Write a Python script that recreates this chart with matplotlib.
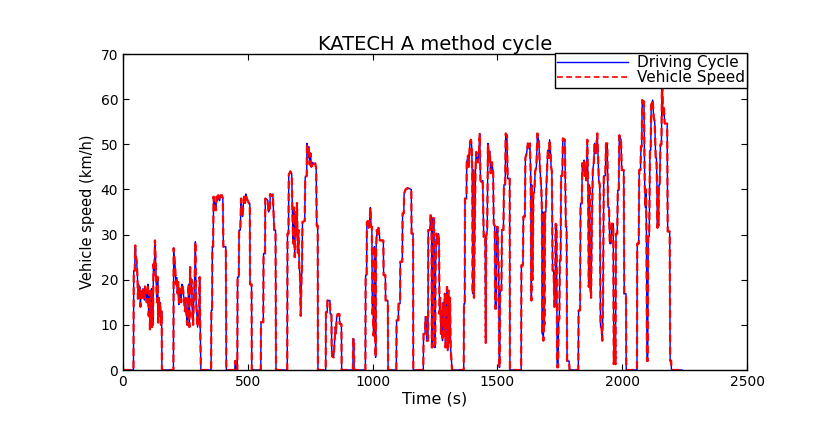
import matplotlib
matplotlib.use('Agg')
import matplotlib.pyplot as plt

plt.rcParams.update({
    'font.family': ['DejaVu Sans'],
    'font.size': 10,
})

# ── KATECH A method cycle (time in s, speed in km/h) ──
time_s = [
    0, 42,
    43, 47, 49, 52, 55, 58, 60, 62, 64, 67, 70, 72, 75, 78, 80, 83, 86, 88, 92, 95, 98, 100,
    103, 106, 108, 111, 114, 116, 118, 120, 122, 125, 128, 131, 134, 137, 139, 141, 143, 146,
    149, 152, 155, 156, 202,
    203, 206, 209, 212, 215, 218, 221, 224, 227, 230, 233, 236, 239, 242, 245, 248, 251, 254,
    257, 260, 263, 266, 269, 272, 275, 278, 281, 284, 287, 290, 293, 296, 299, 302, 305, 307,
    309, 312, 353,
    354, 357, 358, 361, 363, 366, 369, 372, 375, 378, 381, 384, 387, 391, 396, 400, 402, 412,
    414, 448, 449, 452, 453, 458,
    459, 464, 465, 470, 473, 476, 479, 482, 485, 489, 492, 496, 505, 508, 509, 515, 516, 552,
    553, 562, 563, 569, 570, 580, 583, 588, 590, 597, 600, 606, 611, 613, 658,
    659, 663, 664, 670, 676, 679, 682, 685, 688, 691, 694, 697, 700, 703, 706, 709, 712, 715,
    717, 719, 728, 730, 736, 737, 741, 744, 748, 751, 755, 760, 765, 770, 774, 776, 780, 781,
    812,
    813, 818, 819, 829, 830, 835, 836, 838, 844, 847, 851, 853, 856, 860, 867, 868, 875, 876,
    921, 922, 925, 926, 971,
    972, 976, 977, 981, 984, 988, 991, 994, 997, 999, 1002, 1004, 1007, 1010, 1012, 1014, 1017,
    1020, 1023, 1027, 1029, 1043, 1044, 1051, 1052, 1061, 1062, 1095,
    1096, 1103, 1104, 1110, 1111, 1119, 1120, 1125, 1126, 1132, 1140, 1155, 1156, 1162, 1163,
    1203,
    1204, 1210, 1211, 1216, 1217, 1222, 1223, 1230, 1232, 1236, 1237, 1240, 1241, 1246, 1248,
    1251, 1252, 1256, 1260, 1264, 1266, 1268, 1271, 1274, 1277, 1280, 1283, 1286, 1289, 1292,
    1295, 1298, 1301, 1304, 1307, 1310, 1313, 1316, 1318, 1365,
    1366, 1369, 1370, 1376, 1377, 1382, 1385, 1390, 1394, 1397, 1399, 1401, 1404, 1406, 1409,
    1412, 1415, 1419, 1422, 1426, 1429, 1432, 1438, 1441, 1445, 1448, 1451, 1453, 1455, 1459,
    1462, 1466, 1469, 1473, 1478, 1483, 1485, 1489, 1491, 1495, 1497, 1501, 1503, 1505, 1507,
    1509, 1511, 1516, 1518, 1524, 1526, 1531, 1533, 1538, 1541, 1549, 1550, 1595,
    1596, 1602, 1604, 1610, 1612, 1617, 1622, 1627, 1630, 1633, 1636, 1638, 1641, 1644, 1648,
    1651, 1656, 1660, 1666, 1670, 1673, 1676, 1678, 1680, 1682, 1684, 1686, 1688, 1691, 1694,
    1697, 1702, 1706, 1709, 1713, 1715, 1718, 1721, 1725, 1728, 1731, 1733, 1737, 1739, 1743,
    1745, 1748, 1750, 1753, 1755, 1760, 1762, 1770, 1774, 1777, 1779, 1787, 1789, 1824,
    1825, 1831, 1833, 1838, 1840, 1844, 1847, 1850, 1853, 1856, 1860, 1863, 1866, 1869, 1872,
    1875, 1878, 1882, 1886, 1889, 1894, 1900, 1904, 1906, 1910, 1913, 1917, 1920, 1923, 1926,
    1932, 1935, 1940, 1943, 1947, 1950, 1955, 1958, 1964, 1966, 1970, 1973, 1975, 1980, 1982,
    1986, 1988, 1995, 1998, 2006, 2008, 2015, 2016, 2059,
    2060, 2066, 2068, 2073, 2075, 2078, 2080, 2084, 2087, 2090, 2093, 2095, 2097, 2099, 2102,
    2104, 2108, 2111, 2114, 2116, 2122, 2126, 2130, 2134, 2137, 2139, 2141, 2143, 2145, 2147,
    2150, 2153, 2157, 2159, 2161, 2163, 2167, 2170, 2180, 2182, 2190, 2192, 2196, 2197, 2240,
]
cycle_kmh = [
    0, 0,
    22, 22, 27.6, 25, 24, 20.6, 15.8, 19, 16, 18.5, 14, 17, 17.5, 16, 18, 17, 15.5, 18.5, 17, 15, 16.5, 19,
    12, 17.5, 9, 16, 18, 9.5, 13, 10, 23.5, 21, 28.7, 24, 18, 15, 20.6, 10.5, 16, 12,
    15, 10, 13, 0, 0,
    27, 25, 22.8, 19, 20.5, 17, 19.5, 14.5, 18, 17.6, 15, 19, 18.7, 17, 15.4, 13, 16, 12.4,
    10, 13.5, 19, 9.5, 22.8, 17, 20, 12, 10, 16, 20, 28.4, 15, 12.4, 9.5, 13, 11, 20.6,
    11, 0, 0,
    13.2, 13.2, 27.3, 27.3, 38.4, 35.5, 37, 35.4, 38.4, 37.5, 38.7, 38, 37.5, 38.7, 38.7, 38, 27.3, 27.3,
    0, 0, 2, 2, 0, 0,
    20.6, 20.6, 31, 31, 38, 35, 34, 36.5, 38.4, 37, 39, 38, 36.9, 36.9, 19, 19, 0, 0,
    10.6, 10.6, 25.8, 25.8, 38, 37.6, 35, 35.5, 39, 38.5, 39, 31, 31, 0, 0,
    30.2, 30.2, 43.2, 44, 43.5, 34, 28, 36, 25, 35, 30, 37, 26, 31, 22.8, 21, 12, 20,
    22, 32.8, 33, 42.8, 43, 50.2, 47, 49.5, 45.5, 48, 45, 46, 45.5, 45.8, 44.5, 32, 32, 0,
    0,
    12.8, 12.8, 15.4, 15.4, 12.4, 12.4, 5, 3, 2.8, 5.8, 9.5, 8, 11.7, 12.4, 12.4, 10.2, 10.2, 0,
    0, 6.9, 6.9, 0, 0,
    21, 21, 32.8, 33, 31.5, 33, 36, 31.7, 31.7, 12.4, 14, 7.6, 27.3, 25, 2.8, 27, 31,
    30, 31.5, 30, 28.7, 28.7, 21, 21, 15.4, 15.4, 0, 0,
    11, 11, 14.7, 14.7, 24, 24, 34.7, 34.7, 39, 40, 40.3, 40, 30.2, 30.2, 0,
    0,
    8, 8, 11.7, 11.7, 6.5, 6.5, 31, 31, 34.3, 34, 5, 5, 33.6, 33.6, 5,
    5, 22, 30.2, 28, 30.2, 28, 12.4, 16, 8, 13, 6.5, 15, 9, 16.9, 5,
    14, 18.4, 4.3, 17.6, 6, 16, 4.3, 2, 0, 0,
    14.7, 14.7, 38, 38, 46, 47.5, 45, 50.6, 51, 49.5, 43.6, 16.9, 44.3, 16, 30,
    44, 48.3, 47, 46, 48, 52.4, 42, 41.5, 42, 29.5, 30, 29.5, 6, 29.5, 31,
    50.2, 47, 48.5, 43.6, 46, 43.6, 32.4, 32, 13.6, 13.6, 31.7, 31.7, 25, 23, 0.6,
    0.6, 17.6, 17.6, 31, 31, 41, 41, 52.4, 52, 42.4, 42.4, 0, 0,
    23.2, 23.2, 34, 34, 47, 48, 50.2, 49, 50.2, 44, 15.4, 41, 20, 39, 39.5,
    44, 45, 52.4, 50.5, 45, 42.5, 40, 35.4, 8, 35, 6.5, 34, 10, 35, 35,
    42, 48.7, 47, 51, 48, 45, 44, 22, 22, 14, 14, 32.4, 32, 0.6, 0.6,
    11.3, 11.3, 24.3, 24.3, 43, 43, 51.3, 51, 31.7, 31.7, 2, 2, 0, 0,
    13.2, 13.2, 36.9, 36.9, 45.8, 44, 46.5, 43, 45, 42, 51, 41, 18.4, 41, 18.4,
    16, 30, 44.3, 46, 50.2, 48, 52.4, 46, 42, 41, 9.5, 9.5, 6.5, 15, 43,
    43, 50.2, 50.2, 36.1, 36, 28, 28, 32.4, 32.4, 1.3, 10, 1.3, 30.2, 30.2, 39.8,
    39.8, 52, 51, 44.3, 44.3, 16.9, 16.9, 0, 0,
    28, 28, 44.3, 44.3, 49.5, 49.5, 59.8, 58.5, 59.5, 41, 36, 40, 30, 2, 2,
    29.6, 29.6, 48.7, 48.7, 58.7, 59.8, 56, 55, 47, 47, 41, 31.5, 40, 32, 41,
    41, 50, 50, 63, 63, 56.5, 58, 54.6, 54.6, 30.7, 30.7, 2, 2, 0, 0,
]
# measured vehicle speed follows the reference cycle
vehicle_kmh = cycle_kmh

x_ticks = [0, 500, 1000, 1500, 2000, 2500]
y_ticks = [0, 10, 20, 30, 40, 50, 60, 70]

fig = plt.figure(figsize=(8.31, 4.25), dpi=100)
ax = fig.add_axes([0.148, 0.1294, 0.751, 0.7435])

ax.plot(time_s, cycle_kmh, color='#0000FF', linewidth=1.0, label='Driving Cycle')
ax.plot(time_s, vehicle_kmh, color='#FF0000', linewidth=1.6, linestyle=(0, (3.5, 2)),
        label='Vehicle Speed')

ax.set_xlim(0, 2500)
ax.set_ylim(0, 70)
ax.set_xticks(x_ticks)
ax.set_yticks(y_ticks)
ax.tick_params(direction='in', top=True, right=True, length=4, width=0.8, labelsize=10)
for s in ax.spines.values():
    s.set_linewidth(1.0)

ax.set_title('KATECH A method cycle', fontsize=14, pad=3)
ax.set_xlabel('Time (s)', fontsize=11.5, labelpad=2)
ax.set_ylabel('Vehicle speed (km/h)', fontsize=10.5, labelpad=4)

leg = ax.legend(loc='upper right', bbox_to_anchor=(1.0, 1.003), borderaxespad=0,
                fancybox=False, framealpha=1, edgecolor='black', fontsize=11,
                handlelength=4.6, handletextpad=0.6, borderpad=0.15, labelspacing=0.0)
leg.get_frame().set_linewidth(1.0)
leg.get_lines()[1].set_linewidth(1.2)

plt.savefig('out.png', dpi=100)
